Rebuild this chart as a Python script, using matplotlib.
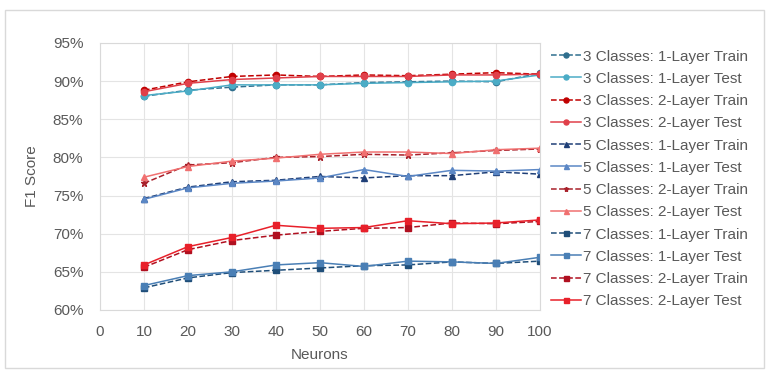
import matplotlib.pyplot as plt
from matplotlib.patches import Rectangle
from matplotlib.ticker import PercentFormatter

plt.switch_backend("Agg")
plt.rcParams["font.family"] = ["Liberation Sans", "DejaVu Sans"]

neurons = [10, 20, 30, 40, 50, 60, 70, 80, 90, 100]

c3_l1_train = [88.0, 88.8, 89.2, 89.5, 89.5, 89.8, 89.9, 90.0, 89.9, 91.0]
c3_l1_test = [88.1, 88.7, 89.5, 89.5, 89.5, 89.7, 89.8, 89.9, 90.0, 90.8]
c3_l2_train = [88.8, 89.9, 90.6, 90.8, 90.6, 90.8, 90.7, 90.9, 91.1, 90.9]
c3_l2_test = [88.6, 89.7, 90.2, 90.4, 90.6, 90.6, 90.6, 90.8, 90.8, 90.9]
c5_l1_train = [74.6, 76.1, 76.8, 77.0, 77.5, 77.3, 77.6, 77.6, 78.1, 77.8]
c5_l1_test = [74.5, 76.0, 76.6, 76.9, 77.3, 78.4, 77.5, 78.3, 78.2, 78.4]
c5_l2_train = [76.6, 79.0, 79.3, 80.0, 80.1, 80.4, 80.3, 80.6, 80.9, 81.1]
c5_l2_test = [77.4, 78.8, 79.5, 79.9, 80.4, 80.7, 80.7, 80.5, 81.0, 81.2]
c7_l1_train = [62.9, 64.2, 64.9, 65.2, 65.5, 65.8, 65.9, 66.3, 66.1, 66.4]
c7_l1_test = [63.2, 64.5, 65.0, 65.9, 66.2, 65.7, 66.4, 66.3, 66.1, 66.9]
c7_l2_train = [65.6, 67.9, 69.1, 69.8, 70.3, 70.7, 70.8, 71.4, 71.3, 71.6]
c7_l2_test = [65.9, 68.3, 69.5, 71.1, 70.7, 70.8, 71.7, 71.3, 71.4, 71.8]

series = [
    ("3 Classes: 1-Layer Train", c3_l1_train, "#2f6f8e", "--", "o"),
    ("3 Classes: 1-Layer Test", c3_l1_test, "#4bacc6", "-", "o"),
    ("3 Classes: 2-Layer Train", c3_l2_train, "#c00000", "--", "o"),
    ("3 Classes: 2-Layer Test", c3_l2_test, "#e0404a", "-", "o"),
    ("5 Classes: 1-Layer Train", c5_l1_train, "#1f3f77", "--", "^"),
    ("5 Classes: 1-Layer Test", c5_l1_test, "#5b87c5", "-", "^"),
    ("5 Classes: 2-Layer Train", c5_l2_train, "#a8202a", "--", "*"),
    ("5 Classes: 2-Layer Test", c5_l2_test, "#f07070", "-", "^"),
    ("7 Classes: 1-Layer Train", c7_l1_train, "#1f4e79", "--", "s"),
    ("7 Classes: 1-Layer Test", c7_l1_test, "#4a7fb5", "-", "s"),
    ("7 Classes: 2-Layer Train", c7_l2_train, "#b01020", "--", "s"),
    ("7 Classes: 2-Layer Test", c7_l2_test, "#e8202a", "-", "s"),
]

fig = plt.figure(figsize=(7.69, 3.73), dpi=100)
ax = fig.add_axes([0.130, 0.169, 0.572, 0.716])

for label, vals, color, ls, mk in series:
    ax.plot(neurons, vals, ls=ls, marker=mk, color=color, lw=1.1, ms=4.5, label=label)

ax.set_xlim(0, 100)
ax.set_ylim(60, 95)
ax.set_xticks(range(0, 101, 10))
ax.set_yticks(range(60, 96, 5))
ax.yaxis.set_major_formatter(PercentFormatter(decimals=0))
ax.grid(True, color="#e4e4e4", lw=0.8)
ax.set_axisbelow(True)
for s in ax.spines.values():
    s.set_color("#d9d9d9")
ax.tick_params(length=0, labelsize=11, colors="#595959")
ax.tick_params(axis="y", pad=12)
ax.tick_params(axis="x", pad=11)
ax.set_xlabel("Neurons", fontsize=11, color="#595959", labelpad=6)
ax.set_ylabel("F1 Score", fontsize=11, color="#595959", labelpad=10)

ax.legend(loc="upper left", bbox_to_anchor=(1.0, 1.015), frameon=False,
          fontsize=11, handlelength=2.0, handletextpad=0.15, labelspacing=0.54,
          borderaxespad=0.3, markerscale=0.8, labelcolor="#595959")

fig.patches.append(Rectangle((0.007, 0.013), 0.986, 0.96, transform=fig.transFigure,
                             fill=False, edgecolor="#d9d9d9", lw=1))

fig.savefig("out.png", dpi=100)
